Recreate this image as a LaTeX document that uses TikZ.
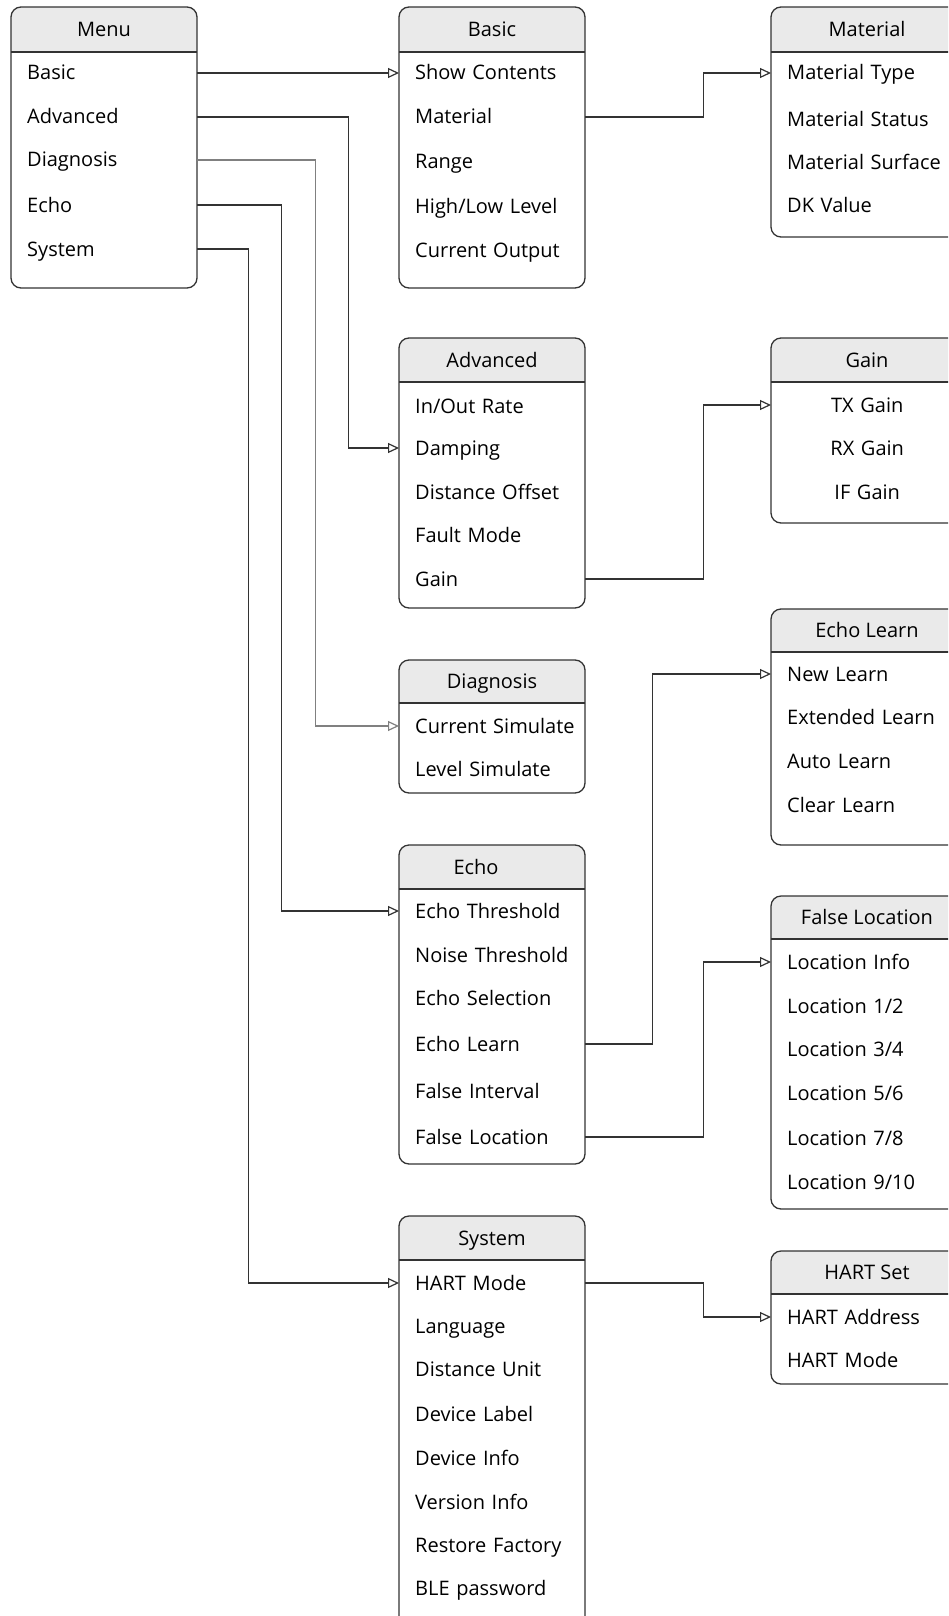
\documentclass[tikz,border=0pt]{standalone}
\usepackage{fontspec}
\setmainfont{Open Sans}
\usetikzlibrary{arrows.meta}

\definecolor{headgray}{HTML}{EAEAEA}
\definecolor{linegray}{HTML}{333333}

\tikzset{box_style/.style={draw=linegray, line width=1.3pt, rounded corners=10pt}}
\tikzset{sep_style/.style={draw=linegray, line width=1.6pt}}
\tikzset{head_style/.style={inner sep=0pt, text height=14pt, text depth=0pt}}
\tikzset{row_style/.style={anchor=west, inner xsep=16pt, inner ysep=0pt, text height=14pt, text depth=0pt, text width=154pt, align=left}}
\tikzset{rrow_style/.style={row_style, text width=160pt}}
\tikzset{crow_style/.style={rrow_style, align=center}}
\tikzset{conn_style/.style={draw=linegray, line width=1.2pt, -{Triangle[open, length=11pt, width=10pt]}}}

% frame of one menu box: x, top, header line, bottom, width
\newcommand{\menuframe}[5]{%
  \begin{scope}
    \clip[rounded corners=10pt] (#1,#2) rectangle ++(#5,#4-#2);
    \fill[headgray] (#1,#2) rectangle (#1+#5,#3);
  \end{scope}
  \draw[sep_style] (#1,#3) -- ++(#5,0);
  \draw[box_style] (#1,#2) rectangle ++(#5,#4-#2);
}

\begin{document}
\begin{tikzpicture}[x=1pt, y=-1pt, font=\fontsize{20}{24}\selectfont]
    \clip (0,0) rectangle (948,1616);
    \fill[white] (0,0) rectangle (948,1616);

    % left column
    \menuframe{11}{7}{52}{288}{186}
    \node[head_style] (menu_head) at (104,29.5) {Menu};
    \foreach \txt/\y [count=\i] in {Basic/73, Advanced/117, Diagnosis/160, Echo/205, System/249}
        \node[row_style] (menu_\i) at (11,\y) {\mbox{\txt}};

    % middle column
    \menuframe{399}{7}{52}{288}{186}
    \node[head_style] (basic_head) at (492,29.5) {Basic};
    \foreach \txt/\y [count=\i] in {Show Contents/73, Material/117, Range/162, {High/Low Level}/206, Current Output/250}
        \node[row_style] (basic_\i) at (399,\y) {\mbox{\txt}};

    \menuframe{399}{338}{382}{608}{186}
    \node[head_style] (adv_head) at (492,360) {Advanced};
    \foreach \txt/\y [count=\i] in {{In/Out Rate}/406, Damping/448, Distance Offset/492, Fault Mode/535, Gain/579}
        \node[row_style] (adv_\i) at (399,\y) {\mbox{\txt}};

    \menuframe{399}{660}{703}{793}{186}
    \node[head_style] (diag_head) at (492,681.5) {Diagnosis};
    \foreach \txt/\y [count=\i] in {Current Simulate/726, Level Simulate/769}
        \node[row_style] (diag_\i) at (399,\y) {\mbox{\txt}};

    \menuframe{399}{845}{889}{1164}{186}
    \node[head_style] (echo_head) at (476,867) {Echo};
    \foreach \txt/\y [count=\i] in {Echo Threshold/911, Noise Threshold/955, Echo Selection/998, Echo Learn/1044, False Interval/1091, False Location/1137}
        \node[row_style] (echo_\i) at (399,\y) {\mbox{\txt}};

    \menuframe{399}{1216}{1260}{1630}{186}
    \node[head_style] (sys_head) at (492,1238) {System};
    \foreach \txt/\y [count=\i] in {HART Mode/1283, Language/1326, Distance Unit/1369, Device Label/1414, Device Info/1458, Version Info/1502, Restore Factory/1545, BLE password/1588}
        \node[row_style] (sys_\i) at (399,\y) {\mbox{\txt}};

    % right column
    \menuframe{771}{7}{52}{237}{192}
    \node[head_style] (mat_head) at (867,29.5) {Material};
    \foreach \txt/\y [count=\i] in {Material Type/73, Material Status/120, Material Surface/163, DK Value/205}
        \node[rrow_style] (mat_\i) at (771,\y) {\mbox{\txt}};

    \menuframe{771}{338}{382}{523}{192}
    \node[head_style] (gain_head) at (867,360) {Gain};
    \foreach \txt/\y [count=\i] in {TX Gain/405, RX Gain/448, IF Gain/492}
        \node[crow_style] (gain_\i) at (771,\y) {\txt};

    \menuframe{771}{609}{652}{845}{192}
    \node[head_style] (learn_head) at (867,630.5) {Echo Learn};
    \foreach \txt/\y [count=\i] in {New Learn/674, Extended Learn/717, Auto Learn/761, Clear Learn/805}
        \node[rrow_style] (learn_\i) at (771,\y) {\mbox{\txt}};

    \menuframe{771}{896}{939}{1209}{192}
    \node[head_style] (floc_head) at (867,917.5) {False Location};
    \foreach \txt/\y [count=\i] in {Location Info/962, {Location 1/2}/1006, {Location 3/4}/1049, {Location 5/6}/1093, {Location 7/8}/1138, {Location 9/10}/1182}
        \node[rrow_style] (floc_\i) at (771,\y) {\mbox{\txt}};

    \menuframe{771}{1251}{1294}{1384}{192}
    \node[head_style] (hart_head) at (867,1272.5) {HART Set};
    \foreach \txt/\y [count=\i] in {HART Address/1317, HART Mode/1360}
        \node[rrow_style] (hart_\i) at (771,\y) {\mbox{\txt}};

    % connectors
    \draw[conn_style] (menu_1.east) -- (basic_1.west);
    \draw[conn_style] (menu_2.east) -- ++(151,0) |- (adv_2.west);
    \draw[conn_style, draw=gray] (menu_3.east) -- ++(118,0) |- (diag_1.west);
    \draw[conn_style] (menu_4.east) -- ++(84,0) |- (echo_1.west);
    \draw[conn_style] (menu_5.east) -- ++(51,0) |- (sys_1.west);
    \draw[conn_style] (basic_2.east) -- ++(118,0) |- (mat_1.west);
    \draw[conn_style] (adv_5.east) -- ++(118,0) |- (gain_1.west);
    \draw[conn_style] (echo_4.east) -- ++(67,0) |- (learn_1.west);
    \draw[conn_style] (echo_6.east) -- ++(118,0) |- (floc_1.west);
    \draw[conn_style] (sys_1.east) -- ++(118,0) |- (hart_1.west);
\end{tikzpicture}
\end{document}
